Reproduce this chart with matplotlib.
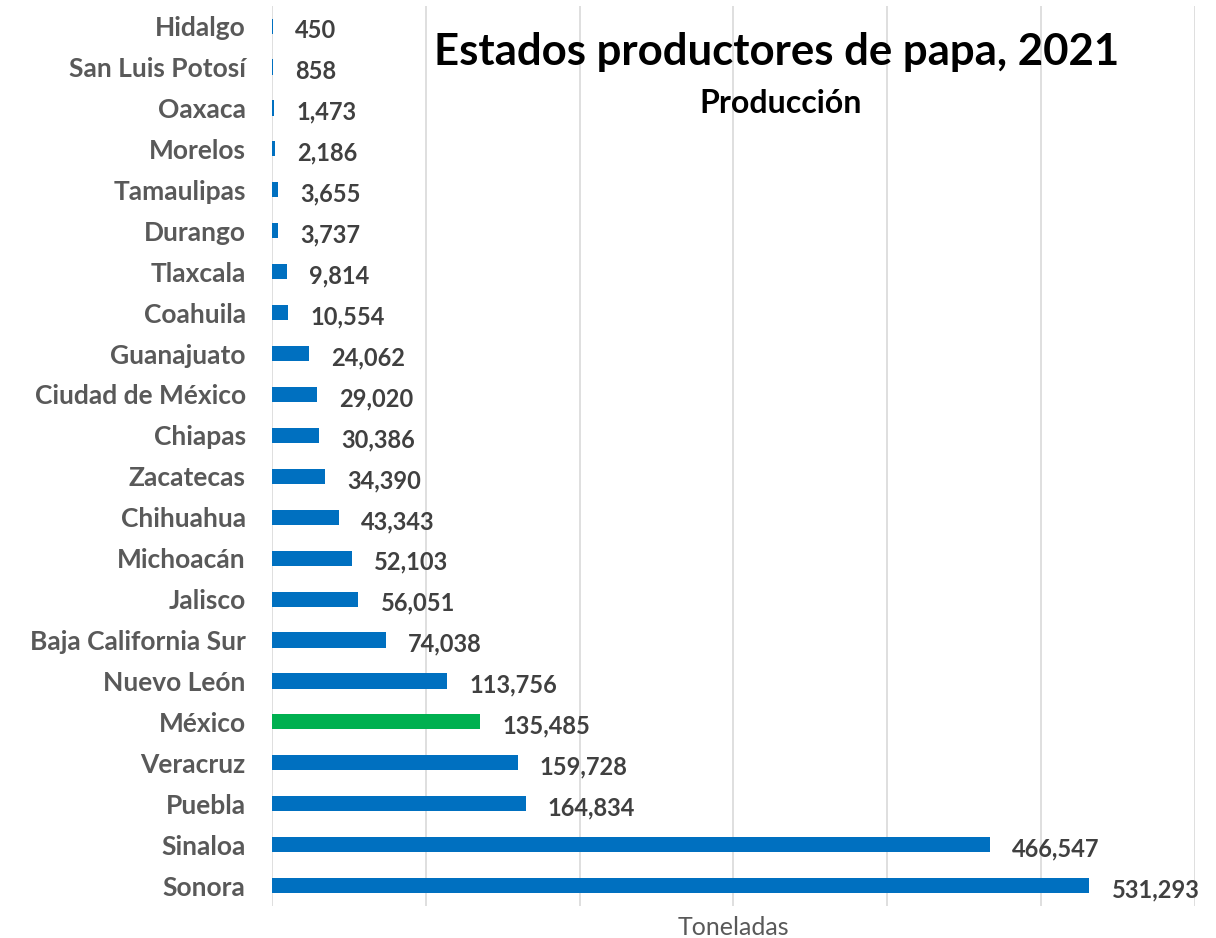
import numpy as np
import matplotlib.pyplot as plt

# datos (de arriba hacia abajo en la gráfica)
estados = ['Hidalgo', 'San Luis Potosí', 'Oaxaca', 'Morelos', 'Tamaulipas', 'Durango',
           'Tlaxcala', 'Coahuila', 'Guanajuato', 'Ciudad de México', 'Chiapas',
           'Zacatecas', 'Chihuahua', 'Michoacán', 'Jalisco', 'Baja California Sur',
           'Nuevo León', 'México', 'Veracruz', 'Puebla', 'Sinaloa', 'Sonora']
produccion = [450, 858, 1473, 2186, 3655, 3737, 9814, 10554, 24062, 29020, 30386,
              34390, 43343, 52103, 56051, 74038, 113756, 135485, 159728, 164834,
              466547, 531293]
destacado = 'México'

plt.rcParams['font.family'] = ['Lato', 'DejaVu Sans']

fig = plt.figure(figsize=(12.16, 9.38), dpi=100)
ax = fig.add_axes([0.2237, 0.034, 0.7590, 0.960])

y = np.arange(len(estados))
colores = ['#00B050' if e == destacado else '#0070C0' for e in estados]
ax.barh(y, produccion, height=0.37, color=colores, zorder=2)

for yi, v in zip(y, produccion):
    ax.annotate(f'{v:,}', (v, yi), xytext=(16, -3), textcoords='offset points',
                ha='left', va='center', fontsize=17, fontweight='bold', color='#404040')

ax.set_xlim(0, 600000)
ax.set_ylim(len(estados) - 0.5, -0.5)
ax.set_xticks(np.arange(0, 600001, 100000))
ax.set_xticklabels([])
ax.tick_params(axis='x', length=0, pad=0)
ax.tick_params(axis='y', length=0, pad=19)
ax.set_yticks(y)
ax.set_yticklabels(estados, fontsize=19, fontweight='bold', color='#595959')
ax.grid(axis='x', color='#D9D9D9', linewidth=1.2, zorder=0)
for s in ax.spines.values():
    s.set_visible(False)

ax.set_xlabel('Toneladas', fontsize=18, color='#595959', labelpad=7)

fig.text(0.639, 0.945, 'Estados productores de papa, 2021', ha='center', va='center',
         fontsize=31.5, fontweight='bold', color='black')
fig.text(0.642, 0.890, 'Producción', ha='center', va='center',
         fontsize=23, fontweight='bold', color='black')

fig.savefig('out.png', dpi=100)
